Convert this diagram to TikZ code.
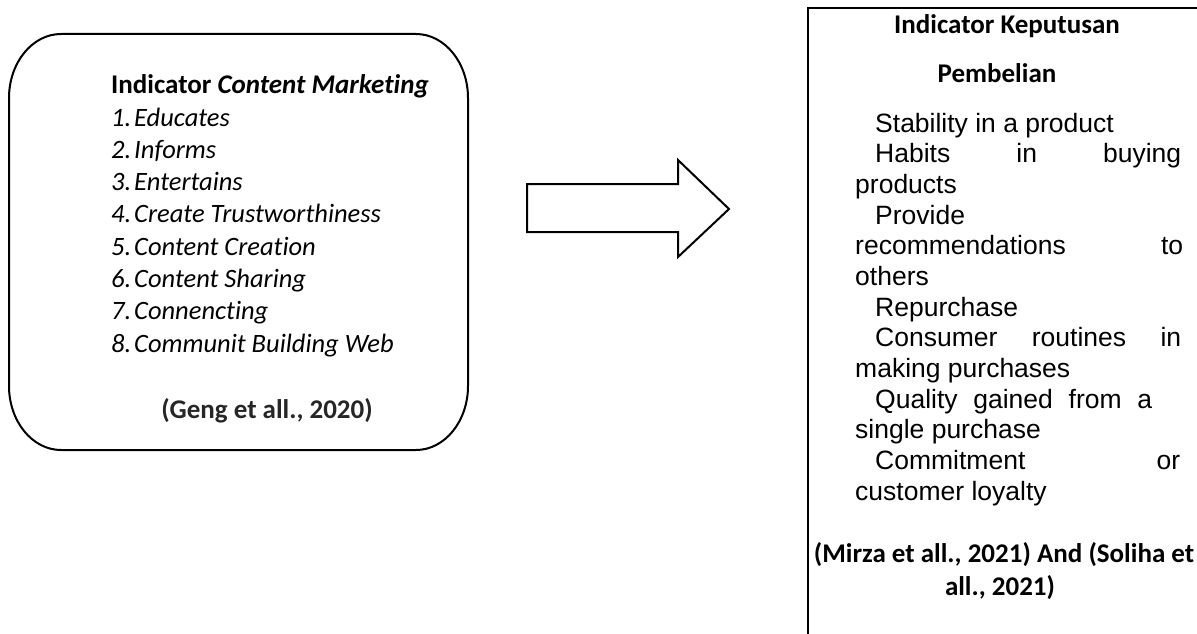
\documentclass[tikz,border=0pt]{standalone}
\usepackage{fontspec}
\setmainfont{Carlito}[Ligatures=NoCommon]
\newfontfamily\arialf{Liberation Sans}
\begin{document}
\begin{tikzpicture}[x=1pt,y=-1pt,
  boxline/.style={line width=2pt, draw=black},
  item/.style={inner sep=0pt, anchor=base west, font=\fontsize{26.5}{31}\selectfont\itshape},
  ttl/.style={inner sep=0pt, anchor=base, font=\fontsize{27}{31}\selectfont\bfseries},
  cite/.style={inner sep=0pt, anchor=base, text=black!85, font=\fontsize{27}{31}\selectfont\bfseries},
  arl/.style={inner sep=0pt, anchor=base west, font=\fontsize{26.5}{30}\selectfont\arialf},
]
\useasboundingbox (0,0) rectangle (1197,634);
% left rounded box
\draw[boxline] (61,34) -- (416,34)
  .. controls (444.7,34) and (468,62.7) .. (468,98)
  -- (468,386)
  .. controls (468,421.3) and (444.7,450) .. (416,450)
  -- (61,450)
  .. controls (32.3,450) and (9,421.3) .. (9,386)
  -- (9,98)
  .. controls (9,62.7) and (32.3,34) .. (61,34) -- cycle;
\node[item, font=\fontsize{27}{31}\selectfont\bfseries] (lt) at (111,93) {Indicator \textit{Content Marketing}};
\foreach \n/\t [count=\i from 0] in {1/Educates,2/Informs,3/Entertains,4/Create Trustworthiness,5/Content Creation,6/Content Sharing,7/Connencting,8/Communit Building Web}{
  \node[item] (n\n) at (111,126+32.3*\i) {\n.};
  \node[item] (l\n) at (134,126+32.3*\i) {\t};
}
\node[cite] (lc) at (267,418) {(Geng et all., 2020)};
% block arrow
\draw[boxline, line join=miter] (527,184) -- (678,184) -- (678,160) -- (729,209) -- (678,257) -- (678,232) -- (527,232) -- cycle;
% right box (open at right and bottom)
\coordinate (rtr) at (1197,8);
\coordinate (rtl) at (808,8);
\coordinate (rbl) at (808,634);
\draw[boxline] (rtr) -- (rtl) -- (rbl);
\node[ttl] (rt1) at (1007,34) {Indicator Keputusan};
\node[ttl] (rt2) at (997,83) {Pembelian};
\node[arl] (r1) at (875,132) {Stability in a product};
\node[arl] (r2) at (875,162.7) {\hbox to 306pt{Habits\hfill in\hfill buying}};
\node[arl] (r3) at (855,193.3) {products};
\node[arl] (r4) at (875,224) {Provide};
\node[arl] (r5) at (855,254.7) {\hbox to 328pt{recommendations\hfill to}};
\node[arl] (r6) at (855,285.3) {others};
\node[arl] (r7) at (875,316) {Repurchase};
\node[arl] (r8) at (875,346.7) {\hbox to 306pt{Consumer\hfill routines\hfill in}};
\node[arl] (r9) at (855,377.3) {making purchases};
\node[arl] (r10) at (875,408) {\hbox to 277pt{Quality\hfill gained\hfill from\hfill a}};
\node[arl] (r11) at (855,438.7) {single purchase};
\node[arl] (r12) at (875,469.3) {\hbox to 305pt{Commitment\hfill or}};
\node[arl] (r13) at (855,500) {customer loyalty};
\node[cite, text=black] (rc1) at (1004,562) {(Mirza et all., 2021) And (Soliha et};
\node[cite, text=black] (rc2) at (1000,595) {all., 2021)};
\end{tikzpicture}
\end{document}
